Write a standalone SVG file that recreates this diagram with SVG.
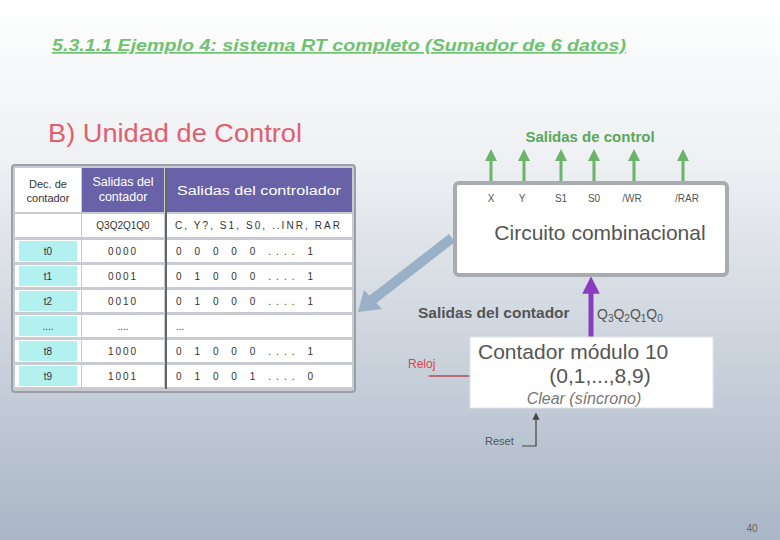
<svg xmlns="http://www.w3.org/2000/svg" width="780" height="540" viewBox="0 0 780 540">
<defs>
<linearGradient id="bg" x1="0" y1="0" x2="0" y2="1">
<stop offset="0" stop-color="#ffffff"/>
<stop offset="0.3" stop-color="#eef0f3"/>
<stop offset="1" stop-color="#a9b6c6"/>
</linearGradient>
<marker id="ag" viewBox="0 0 10 10" refX="5" refY="5" markerWidth="4" markerHeight="4" orient="auto"><path d="M0,0 L10,5 L0,10 z" fill="#6bb56b"/></marker>
<marker id="ap" viewBox="0 0 10 10" refX="5" refY="5" markerWidth="3.5" markerHeight="3.5" orient="auto"><path d="M0,0 L10,5 L0,10 z" fill="#8a3cc0"/></marker>
<marker id="ak" viewBox="0 0 10 10" refX="8" refY="5" markerWidth="6" markerHeight="6" orient="auto"><path d="M0,0 L10,5 L0,10 z" fill="#444"/></marker>
</defs>
<style>
text{font-family:"Liberation Sans",Arial,sans-serif}
.th{fill:#ffffff;font-size:12.5px}
.cell{fill:#333;font-size:10px}
.hd{fill:#6a62a8}
.cy{fill:#b3f0f0}
.wc{fill:#ffffff}
.lab{fill:#555;font-size:10px}
.gl{stroke:#6bb56b;stroke-width:3;marker-end:url(#ag)}
</style>
<rect width="780" height="540" fill="url(#bg)"/>
<text x="52" y="51" font-size="17" font-weight="bold" font-style="italic" fill="#6fc26f" text-decoration="underline" textLength="574" lengthAdjust="spacingAndGlyphs">5.3.1.1 Ejemplo 4: sistema RT completo (Sumador de 6 datos)</text>
<text x="48" y="142" font-size="25" fill="#e06070" textLength="254" lengthAdjust="spacingAndGlyphs">B) Unidad de Control</text>
<g id="table">
<rect x="12" y="165" width="343" height="227" rx="3" fill="#c8ccd2" stroke="#9aa0a8" stroke-width="2"/>
<rect x="15" y="168" width="66" height="44" class="wc"/>
<rect x="82" y="168" width="82" height="44" class="hd"/>
<rect x="167" y="168" width="185" height="44" class="hd"/>
<rect x="15" y="214" width="66" height="23" class="wc"/>
<rect x="82" y="214" width="82" height="23" class="wc"/>
<rect x="167" y="214" width="185" height="23" class="wc"/>
<text x="48" y="188" text-anchor="middle" font-size="11" fill="#333">Dec. de</text>
<text x="48" y="202" text-anchor="middle" font-size="11" fill="#333">contador</text>
<text x="123" y="186" text-anchor="middle" class="th">Salidas del</text>
<text x="123" y="201" text-anchor="middle" class="th">contador</text>
<text x="259" y="195" text-anchor="middle" class="th" font-size="14" textLength="164" lengthAdjust="spacingAndGlyphs">Salidas del controlador</text>
<text x="123" y="229" text-anchor="middle" class="cell">Q3Q2Q1Q0</text>
<text x="175" y="229" class="cell" textLength="165" lengthAdjust="spacing">C, Y?, S1, S0, ..INR, RAR</text>
<g class="rows">
<rect x="15" y="240" width="66" height="22" fill="#ffffff"/><rect x="19" y="241" width="58" height="20" class="cy"/><rect x="82" y="240" width="82" height="22" class="wc"/><rect x="167" y="240" width="185" height="22" class="wc"/>
<rect x="15" y="265" width="66" height="22" fill="#ffffff"/><rect x="19" y="266" width="58" height="20" class="cy"/><rect x="82" y="265" width="82" height="22" class="wc"/><rect x="167" y="265" width="185" height="22" class="wc"/>
<rect x="15" y="290" width="66" height="22" fill="#ffffff"/><rect x="19" y="291" width="58" height="20" class="cy"/><rect x="82" y="290" width="82" height="22" class="wc"/><rect x="167" y="290" width="185" height="22" class="wc"/>
<rect x="15" y="315" width="66" height="22" fill="#ffffff"/><rect x="19" y="316" width="58" height="20" class="cy"/><rect x="82" y="315" width="82" height="22" class="wc"/><rect x="167" y="315" width="185" height="22" class="wc"/>
<rect x="15" y="340" width="66" height="22" fill="#ffffff"/><rect x="19" y="341" width="58" height="20" class="cy"/><rect x="82" y="340" width="82" height="22" class="wc"/><rect x="167" y="340" width="185" height="22" class="wc"/>
<rect x="15" y="365" width="66" height="22" fill="#ffffff"/><rect x="19" y="366" width="58" height="20" class="cy"/><rect x="82" y="365" width="82" height="22" class="wc"/><rect x="167" y="365" width="185" height="22" class="wc"/>
</g>
<text x="48" y="255" text-anchor="middle" class="cell">t0</text>
<text x="48" y="280" text-anchor="middle" class="cell">t1</text>
<text x="48" y="305" text-anchor="middle" class="cell">t2</text>
<text x="48" y="330" text-anchor="middle" class="cell">....</text>
<text x="48" y="355" text-anchor="middle" class="cell">t8</text>
<text x="48" y="380" text-anchor="middle" class="cell">t9</text>
<text x="123" y="255" text-anchor="middle" class="cell" letter-spacing="2">0000</text>
<text x="123" y="280" text-anchor="middle" class="cell" letter-spacing="2">0001</text>
<text x="123" y="305" text-anchor="middle" class="cell" letter-spacing="2">0010</text>
<text x="123" y="330" text-anchor="middle" class="cell">....</text>
<text x="123" y="355" text-anchor="middle" class="cell" letter-spacing="2">1000</text>
<text x="123" y="380" text-anchor="middle" class="cell" letter-spacing="2">1001</text>
<text x="176" y="255" class="cell" textLength="137" lengthAdjust="spacing">0 0  0  0  0  ....  1</text>
<text x="176" y="280" class="cell" textLength="137" lengthAdjust="spacing">0 1  0  0  0  ....  1</text>
<text x="176" y="305" class="cell" textLength="137" lengthAdjust="spacing">0 1  0  0  0  ....  1</text>
<text x="176" y="330" class="cell">...</text>
<text x="176" y="355" class="cell" textLength="137" lengthAdjust="spacing">0 1  0  0  0  ....  1</text>
<text x="176" y="380" class="cell" textLength="137" lengthAdjust="spacing">0 1  0  0  1  ....  0</text>
<line x1="166" y1="168" x2="166" y2="389" stroke="#666" stroke-width="2"/>
</g>
<g id="connectors">
<line x1="491" y1="183" x2="491" y2="155" class="gl"/>
<line x1="524" y1="183" x2="524" y2="155" class="gl"/>
<line x1="561" y1="183" x2="561" y2="155" class="gl"/>
<line x1="594" y1="183" x2="594" y2="155" class="gl"/>
<line x1="634" y1="183" x2="634" y2="155" class="gl"/>
<line x1="683" y1="183" x2="683" y2="155" class="gl"/>
<line x1="591" y1="340" x2="591" y2="285" stroke="#8a3cc0" stroke-width="5" marker-end="url(#ap)"/>
<path d="M452,238 L372,300" stroke="#9ab0c6" stroke-width="10" fill="none"/>
<path d="M358,312 L364,290 L382,309 z" fill="#9ab0c6"/>
<line x1="430" y1="376" x2="480" y2="376" stroke="#555" stroke-width="1" marker-end="url(#ak)"/>
<path d="M522,446 L536,446 L536,414" stroke="#444" stroke-width="1.2" fill="none" marker-end="url(#ak)"/>
</g>
<text x="590" y="142" text-anchor="middle" font-size="15" font-weight="bold" fill="#5aa85a">Salidas de control</text>
<g id="combinacional">
<rect x="455" y="183" width="272" height="92" rx="4" fill="#ffffff" stroke="#a8acb2" stroke-width="4"/>
<text x="491" y="202" text-anchor="middle" class="lab">X</text>
<text x="522" y="202" text-anchor="middle" class="lab">Y</text>
<text x="561" y="202" text-anchor="middle" class="lab">S1</text>
<text x="594" y="202" text-anchor="middle" class="lab">S0</text>
<text x="632" y="202" text-anchor="middle" class="lab">/WR</text>
<text x="687" y="202" text-anchor="middle" class="lab">/RAR</text>
<text x="600" y="240" text-anchor="middle" font-size="21" fill="#555">Circuito combinacional</text>
</g>
<text x="418" y="318" font-size="15.5" font-weight="bold" fill="#555">Salidas del contador</text>
<text x="597" y="319" font-size="14" fill="#555">Q<tspan font-size="10" dy="3">3</tspan><tspan dy="-3">Q</tspan><tspan font-size="10" dy="3">2</tspan><tspan dy="-3">Q</tspan><tspan font-size="10" dy="3">1</tspan><tspan dy="-3">Q</tspan><tspan font-size="10" dy="3">0</tspan></text>
<g id="contador">
<rect x="470" y="337" width="243" height="71" fill="#ffffff" stroke="#e0e4e8" stroke-width="1"/>
<text x="478" y="359" font-size="21" fill="#555">Contador módulo 10</text>
<text x="600" y="383" text-anchor="middle" font-size="21" fill="#555">(0,1,...,8,9)</text>
<text x="584" y="404" text-anchor="middle" font-size="16" font-style="italic" fill="#777">Clear (síncrono)</text>
</g>
<text x="408" y="368" font-size="12" fill="#e04050">Reloj</text>
<line x1="428" y1="376" x2="468" y2="376" stroke="#e04050" stroke-width="1"/>
<text x="485" y="445" font-size="11" fill="#555">Reset</text>
<text x="752" y="532" text-anchor="middle" font-size="10" fill="#666">40</text>
</svg>
